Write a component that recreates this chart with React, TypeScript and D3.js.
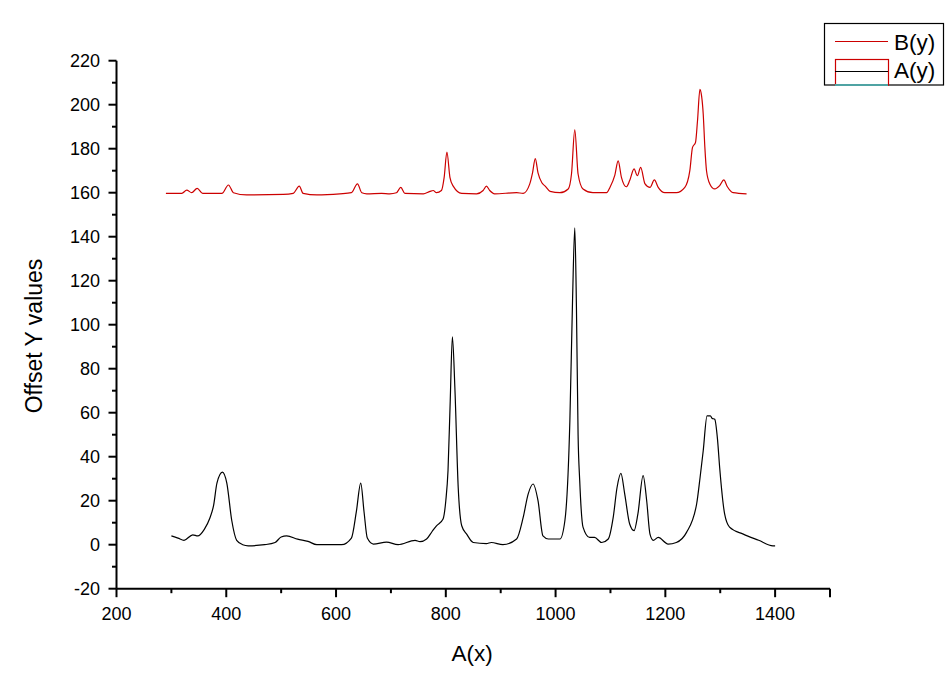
import React from "react";
import * as d3 from "d3";

const bX = [290,319,328,337,347,357,392,404,413,437,504,522,533,540,565,607,628,639,647,656,683,698,710,718,725.5,759,771,777,783,792,797,802,807.5,813.5,829,856,868,874,880,889,929,941,953,958,963,968,975,981,990,1008,1023,1029,1035,1041,1050,1068,1093,1099,1108,1114,1120,1129,1135,1143,1149,1155,1163,1172,1180,1187,1199,1220,1235.5,1244.6,1249.5,1255,1258.6,1263,1266,1269,1272,1275,1281,1290,1299,1306.5,1313,1323.5,1348];
const bY = [159.7,159.7,161.2,160,162,159.7,159.7,163.5,160,159,159.2,159.7,163,159.7,159,159.5,160,164,160,159.5,159.7,159.5,160,162.4,159.7,159.5,160.6,161,160,161,167,178.5,167,163,159.7,159.5,161,163,161,159.5,160,159.7,164,169,175.5,169,164.5,163,160.6,160,161.7,168.5,188.6,168.5,161.7,160,160,162.4,168,174.5,167,162.7,165.5,170.8,167.7,171.5,164,162.4,165.8,162.4,160,160,162.4,170,180.6,182.9,192.7,207,204,195.8,180.6,170,164,161.7,163.2,165.8,162.7,160,159.5];

const aX = [300,312,323,339,348,360,370,377,383,393,401,410,419,430,440,470,489,500,510,530,549,565,610,628,637,645,651,657,668,692,713,744,753,765,775,783,795,800,804,808,812,816.5,822.6,829,838,850,874,883,904,929,941,950,959,968,977,987,1008,1017,1026,1031,1035,1038,1041,1044,1050,1062,1071,1084,1096,1105,1112,1119,1126,1135,1143,1150,1159.5,1166,1172,1178,1187,1205,1220,1238.6,1257,1263,1269,1276,1282,1285,1290,1295,1299,1308,1317,1342,1370,1396,1400];
const aY = [4,3,2,4.5,4,7,12,18,28,33,28,11,2,0,-0.5,0,1,3.5,4,2.5,1.5,0,0,3,15,28,15,3,0.3,1.2,0,2,1.4,2.6,6,8.6,11.7,20,33.6,65,94.5,71.5,26,8.6,4.8,1,0.5,1,0,2.6,12.4,23,27.6,20,4,2.6,2.6,11,56,112,144,108,50,29,8,3.3,3.3,1,2.6,12.4,26,32.4,23,9.4,6.4,14,31.4,20,4.8,2,3.3,0.3,1,5.6,18.5,30,42.7,58.6,58.6,57.5,57,48,35,14,8,4.8,2,-0.5,-0.5];

const xTicks = [200,400,600,800,1000,1200,1400];
const yTicks = [-20,0,20,40,60,80,100,120,140,160,180,200,220];
const seriesNames = ["B(y)", "A(y)"];

const W = 952, H = 686;
const left = 116.5, right = 830, top = 60.7, bottom = 588.7;
const FONT = "'Liberation Sans', Arial, sans-serif";

export default function App() {
  const x = d3.scaleLinear().domain([200, 1500]).range([left, right]);
  const y = d3.scaleLinear().domain([-20, 220]).range([bottom, top]);
  const line = d3.line<[number, number]>().x(d => x(d[0])).y(d => y(d[1])).curve(d3.curveMonotoneX);
  const aPts = aX.map((v, i) => [v, aY[i]] as [number, number]);
  const bPts = bX.map((v, i) => [v, bY[i]] as [number, number]);
  const xMinor = d3.range(300, 1500, 200);
  const yMinor = d3.range(-10, 220, 20);

  return (
    <svg width={W} height={H} style={{ position: "absolute", left: 0, top: 0, background: "#fff" }} fontFamily={FONT}>
      <rect width={W} height={H} fill="#fff" />
      <line x1={left} x2={left} y1={top} y2={bottom} stroke="#000" strokeWidth={2} />
      <line x1={left} x2={right} y1={bottom} y2={bottom} stroke="#000" strokeWidth={2} />
      {yTicks.map(t => (
        <g key={"y" + t}>
          <line x1={left - 8} x2={left} y1={y(t)} y2={y(t)} stroke="#000" strokeWidth={2} />
          <text x={100} y={y(t)} dy="0.36em" textAnchor="end" fontSize={18}>{t}</text>
        </g>
      ))}
      {yMinor.map(t => (
        <line key={"ym" + t} x1={left - 4.5} x2={left} y1={y(t)} y2={y(t)} stroke="#000" strokeWidth={2} />
      ))}
      {xTicks.map(t => (
        <g key={"x" + t}>
          <line x1={x(t)} x2={x(t)} y1={bottom} y2={bottom + 8.5} stroke="#000" strokeWidth={2} />
          <text x={x(t)} y={620} textAnchor="middle" fontSize={18}>{t}</text>
        </g>
      ))}
      <line x1={right} x2={right} y1={bottom} y2={bottom + 8.5} stroke="#000" strokeWidth={2} />
      {xMinor.map(t => (
        <line key={"xm" + t} x1={x(t)} x2={x(t)} y1={bottom} y2={bottom + 4.5} stroke="#000" strokeWidth={2} />
      ))}
      <text x={472} y={661} textAnchor="middle" fontSize={22.5}>A(x)</text>
      <text transform="translate(42,336) rotate(-90)" textAnchor="middle" fontSize={23}>Offset Y values</text>
      <path d={line(bPts) || ""} fill="none" stroke="#cc0000" strokeWidth={1.2} />
      <path d={line(aPts) || ""} fill="none" stroke="#000" strokeWidth={1.2} />
      <rect x={824.5} y={23.5} width={119} height={61.5} fill="#fff" stroke="#000" strokeWidth={1.2} />
      <line x1={835} x2={888} y1={41.5} y2={41.5} stroke="#cc0000" strokeWidth={1.2} />
      <text x={894} y={50} fontSize={22.5}>{seriesNames[0]}</text>
      <rect x={835.5} y={59.5} width={53} height={25.5} fill="none" stroke="#cc0000" strokeWidth={1.2} />
      <line x1={835} x2={888} y1={71.5} y2={71.5} stroke="#000" strokeWidth={1.2} />
      <line x1={835} x2={888} y1={85} y2={85} stroke="#33cccc" strokeWidth={1.5} />
      <text x={894} y={78} fontSize={22.5}>{seriesNames[1]}</text>
    </svg>
  );
}
